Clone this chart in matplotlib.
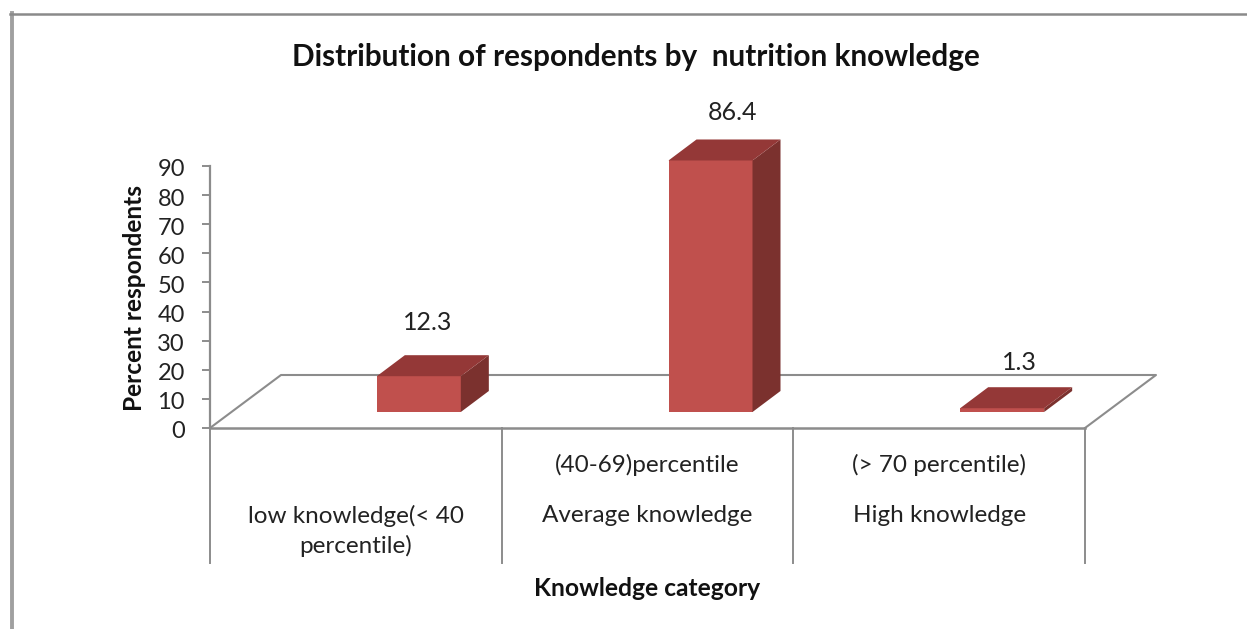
import matplotlib
matplotlib.use('Agg')
import matplotlib.pyplot as plt
from matplotlib.patches import Polygon
from matplotlib.transforms import ScaledTranslation

categories = ['low knowledge(< 40\npercentile)', 'Average knowledge', 'High knowledge']
upper_labels = ['', '(40-69)percentile', '(> 70 percentile)']
values = [12.3, 86.4, 1.3]
yticks = list(range(0, 100, 10))

W, H = 1247, 629
plt.rcParams['font.family'] = ['Lato', 'DejaVu Sans']

fig = plt.figure(figsize=(W / 100, H / 100), dpi=100)

# plot area in pixels, the 3d look is faked with offsets
left, right, bottom, top = 210, 1085, 428, 166
ax = fig.add_axes([left / W, 1 - bottom / H, (right - left) / W, (bottom - top) / H])
ax.set_xlim(0, 3)
ax.set_ylim(0, 90)
ax.patch.set_visible(False)
for s in ['top', 'right']:
    ax.spines[s].set_visible(False)
gray = '#8c8c8c'
ax.spines['left'].set_color(gray)
ax.spines['left'].set_linewidth(1.6)
ax.spines['bottom'].set_color(gray)
ax.spines['bottom'].set_linewidth(1.8)
ax.set_xticks([])
ax.set_yticks(yticks)
ax.tick_params(axis='y', length=6, width=1.4, color=gray, labelsize=17, labelcolor='#222222', pad=12)
for lab in ax.get_yticklabels():
    lab.set_transform(lab.get_transform() + ScaledTranslation(0, -2 / 100, fig.dpi_scale_trans))

px = 3 / (right - left)
py = 90 / (bottom - top)

# floor
depth_x, depth_y = 71 * px, 53 * py
ax.plot([0, depth_x, 3 + depth_x, 3], [0, depth_y, depth_y, 0], color=gray, lw=1.5, clip_on=False, zorder=1)

# category dividers below the axis
for x in range(4):
    ax.plot([x, x], [0, -135 * py], color=gray, lw=1.4, clip_on=False, zorder=1)

# bars
bar_w = 84 * px
base = 16 * py
dx, dy = 28 * px, 21 * py
label_dx = [9, 22, 17]
label_dy = [25, 19, 17]
for i, v in enumerate(values):
    x0 = i + 0.5 - bar_w / 2 + 63 * px
    x1 = x0 + bar_w
    y0, y1 = base, base + v
    ax.add_patch(Polygon([(x0, y0), (x1, y0), (x1, y1), (x0, y1)], fc='#c0504d', ec='none', clip_on=False, zorder=3))
    ax.add_patch(Polygon([(x1, y0), (x1 + dx, y0 + dy), (x1 + dx, y1 + dy), (x1, y1)], fc='#7b312e', ec='none', clip_on=False, zorder=3))
    ax.add_patch(Polygon([(x0, y1), (x1, y1), (x1 + dx, y1 + dy), (x0 + dx, y1 + dy)], fc='#943837', ec='none', clip_on=False, zorder=3))
    ax.text((x0 + x1) / 2 + label_dx[i] * px, y1 + dy + label_dy[i] * py, str(v), ha='center', va='baseline',
            fontsize=18, color='#222222', clip_on=False)

# category labels
for i, (c, u) in enumerate(zip(categories, upper_labels)):
    ax.text(i + 0.5, -77 * py, c, ha='center', va='top', fontsize=17.5, color='#222222', linespacing=1.44)
    if u:
        ax.text(i + 0.5, -37 * py, u, ha='center', va='center', fontsize=17.5, color='#222222')

ax.text(0.5, -160 * py / 90, 'Knowledge category', transform=ax.transAxes, ha='center', va='center',
        fontsize=17.7, fontweight='bold', color='#111111')
fig.text(135 / W, 1 - 298 / H, 'Percent respondents', rotation=90, ha='center', va='center',
         fontsize=17.6, fontweight='bold', color='#111111')
fig.text(636 / W, 1 - 57 / H, 'Distribution of respondents by  nutrition knowledge', ha='center', va='center',
         fontsize=21.4, fontweight='bold', color='#111111')

# outer frame of the chart
fig.add_artist(plt.Line2D([12 / W, 12 / W], [0, 1 - 13 / H], color='#a0a0a0', lw=2.8))
fig.add_artist(plt.Line2D([10 / W, 1], [1 - 13.5 / H, 1 - 13.5 / H], color='#8a8a8a', lw=1.8))

fig.savefig('out.png', dpi=100)
